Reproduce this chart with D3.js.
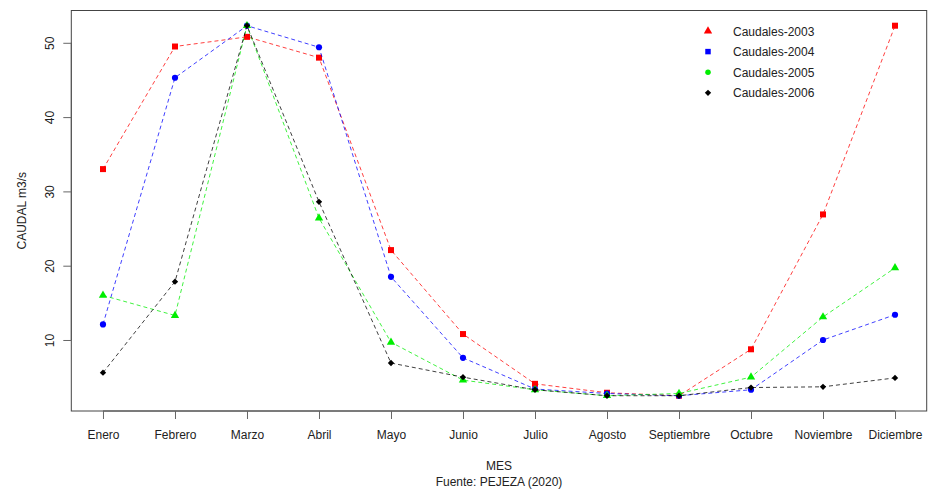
<!DOCTYPE html>
<html><head><meta charset="utf-8">
<script src="https://cdn.jsdelivr.net/npm/d3@7"></script>
<style>body{margin:0;background:#fff}svg{display:block}text{font-family:"Liberation Sans",Arial,sans-serif;fill:#222}</style>
</head><body><svg id="c" width="930" height="494"></svg>
<script>
const months = ["Enero","Febrero","Marzo","Abril","Mayo","Junio","Julio","Agosto","Septiembre","Octubre","Noviembre","Diciembre"];
const q2003 = [33.0,49.5,50.8,48.0,22.1,10.8,4.1,2.9,2.5,8.75,26.9,52.3];
const q2004 = [12.1,45.3,52.3,49.4,18.5,7.6,3.4,2.8,2.5,3.3,10.0,13.4];
const q2005 = [16.0,13.3,52.3,26.4,9.7,4.6,3.3,2.5,2.8,5.0,13.1,19.7];
const q2006 = [5.6,17.85,52.3,28.6,6.9,5.0,3.3,2.5,2.5,3.6,3.7,4.9];
const yTicks = [10,20,30,40,50];
const seriesNames = ["Caudales-2003","Caudales-2004","Caudales-2005","Caudales-2006"];
const seriesColors = ["#ff0000","#0000ff","#00ee00","#000000"];
const plotShapes = ["square","circle","triangle","diamond"];
const legendShapes = ["triangle","square","circle","diamond"];
const plotSizes = [36,30,30,20];
const legendSizes = [30,30,24,20];

const svg = d3.select("#c");
const L=71.3,R=926.7,T=10.5,B=411;
const x = d3.scaleLinear().domain([1-0.04*11,12+0.04*11]).range([L,R]);
const yMin=2.44,yMax=52.35,ext=(yMax-yMin)*0.04;
const y = d3.scaleLinear().domain([yMin-ext,yMax+ext]).range([B,T]);

function sym(name,size){
  const t = {square:d3.symbolSquare,circle:d3.symbolCircle,triangle:d3.symbolTriangle,diamond:d3.symbolSquare}[name];
  return d3.symbol().type(t).size(size)();
}
function rot(name){return name==="diamond"?" rotate(45)":"";}

const all=[q2003,q2004,q2005,q2006];
const line = d3.line().x((d,i)=>x(i+1)).y(d=>y(d));
all.forEach((s,k)=>{
  svg.append("path").attr("d",line(s)).attr("fill","none")
    .attr("stroke",seriesColors[k]).attr("stroke-width",1).attr("stroke-opacity",0.75)
    .attr("stroke-dasharray","4,3");
  svg.selectAll(null).data(s).enter().append("path")
    .attr("d",sym(plotShapes[k],plotSizes[k]))
    .attr("transform",(d,i)=>`translate(${x(i+1)},${y(d)})${rot(plotShapes[k])}`)
    .attr("fill",seriesColors[k]);
});

svg.append("rect").attr("x",L).attr("y",T).attr("width",R-L).attr("height",B-T)
  .attr("fill","none").attr("stroke","#444").attr("stroke-width",1);

// x axis
const xa = svg.append("g").attr("transform",`translate(0,${B})`)
  .call(d3.axisBottom(x).tickValues(d3.range(1,13)).tickFormat(i=>months[i-1]).tickSize(8).tickPadding(11));
xa.select(".domain").attr("d",`M${x(1)},0H${x(12)}`).attr("stroke","#555");
xa.selectAll(".tick line").attr("stroke","#666");
xa.selectAll("text").attr("font-size",12).style("font-family","Liberation Sans, Arial, sans-serif").attr("fill","#222");

// y axis
const ya = svg.append("g").attr("transform",`translate(${L},0)`)
  .call(d3.axisLeft(y).tickValues(yTicks).tickSize(8).tickFormat(d3.format("d")));
ya.select(".domain").attr("d",`M0,${y(10)}V${y(50)}`).attr("stroke","#555");
ya.selectAll(".tick line").attr("stroke","#666");
ya.selectAll(".tick text").attr("font-size",12)
  .attr("transform","rotate(-90)").attr("text-anchor","middle")
  .attr("x",0).attr("y",-17).attr("dy","0")
  .style("font-family","Liberation Sans, Arial, sans-serif").attr("fill","#222");

svg.append("text").attr("transform",`translate(26,${(T+B)/2}) rotate(-90)`)
  .attr("text-anchor","middle").attr("font-size",12).text("CAUDAL m3/s");
svg.append("text").attr("x",(L+R)/2).attr("y",470).attr("text-anchor","middle").attr("font-size",12).text("MES");
svg.append("text").attr("x",(L+R)/2).attr("y",486).attr("text-anchor","middle").attr("font-size",12).text("Fuente: PEJEZA (2020)");

// legend
const lg = svg.append("g");
seriesNames.forEach((n,k)=>{
  const yy = 31 + k*20.6;
  lg.append("path").attr("d",sym(legendShapes[k],legendSizes[k]))
    .attr("transform",`translate(708,${yy})${rot(legendShapes[k])}`).attr("fill",seriesColors[k]);
  lg.append("text").attr("x",733).attr("y",yy+4.5).attr("font-size",12).text(n);
});
</script></body></html>
